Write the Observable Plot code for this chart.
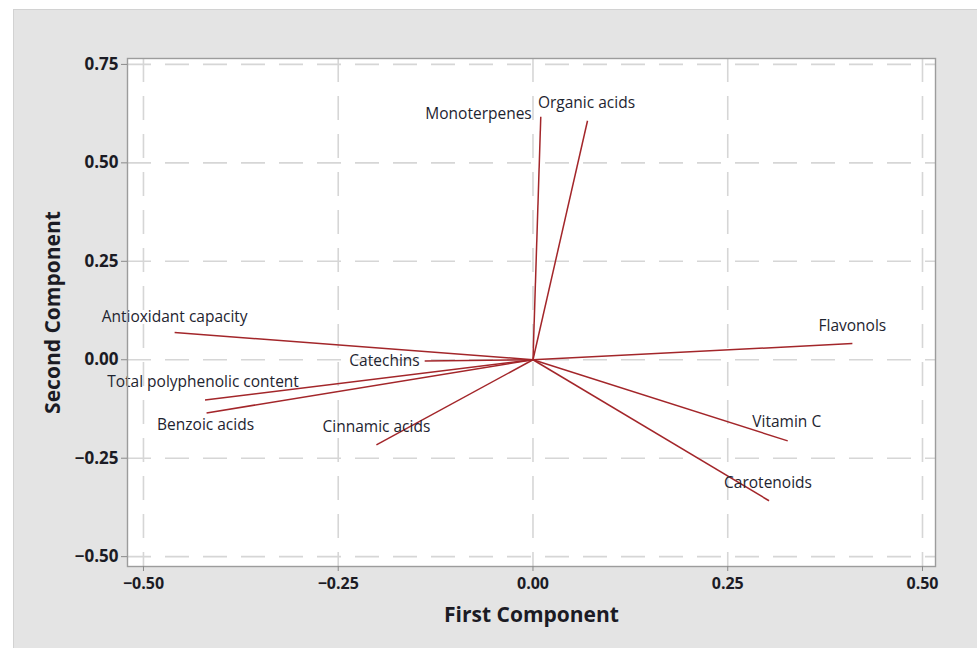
<!DOCTYPE html>
<html>
<head>
<meta charset="utf-8">
<script src="https://cdn.jsdelivr.net/npm/d3@7"></script>
<script src="https://cdn.jsdelivr.net/npm/@observablehq/plot@0.6"></script>
<style>
  html, body { margin: 0; padding: 0; background: #ffffff; }
  #wrap { position: relative; width: 977px; height: 648px; overflow: hidden; }
  #panel { position: absolute; left: 13px; top: 9px; right: 0; bottom: 0;
           background: #e4e4e4; border-top: 1px solid #d2d2d2; border-left: 1px solid #d2d2d2; }
  #chart { position: absolute; left: 0; top: 0; }
  #chart svg { background: transparent; }
</style>
</head>
<body>
<div id="wrap"><div id="panel"></div><div id="chart"></div></div>
<script>
// Variables (loadings on first and second principal components)
const variables = [
  "Monoterpenes", "Organic acids", "Antioxidant capacity", "Catechins",
  "Total polyphenolic content", "Benzoic acids", "Cinnamic acids",
  "Flavonols", "Vitamin C", "Carotenoids"
];
const firstComponent  = [0.010, 0.070, -0.460, -0.139, -0.421, -0.419, -0.201, 0.410, 0.327, 0.303];
const secondComponent = [0.617, 0.607,  0.069, -0.003, -0.102, -0.135, -0.216, 0.041, -0.206, -0.358];

const xTicks = [-0.50, -0.25, 0.00, 0.25, 0.50];
const yTicks = [-0.50, -0.25, 0.00, 0.25, 0.50, 0.75];

// label placement (pixel offsets from the vector tip)
const labelPlacement = {
  "Monoterpenes": {anchor: "end", dx: -9, dy: -3},
  "Organic acids": {anchor: "middle", dx: -1, dy: -18},
  "Antioxidant capacity": {anchor: "middle", dx: 0, dy: -16},
  "Catechins": {anchor: "end", dx: -5, dy: 0},
  "Total polyphenolic content": {anchor: "middle", dx: -2, dy: -18},
  "Benzoic acids": {anchor: "middle", dx: -1, dy: 12},
  "Cinnamic acids": {anchor: "middle", dx: 0, dy: -18},
  "Flavonols": {anchor: "middle", dx: 0, dy: -18},
  "Vitamin C": {anchor: "middle", dx: -1, dy: -19},
  "Carotenoids": {anchor: "middle", dx: -1, dy: -18}
};

const rows = variables.map((name, i) => ({name, x: firstComponent[i], y: secondComponent[i]}));

const lineColor = "#a3262a";
const fmt = d3.format(".2f");

const marks = [
  Plot.frame({fill: "white", stroke: "none"}),
  Plot.gridX(xTicks, {stroke: "#d6d6d6", strokeOpacity: 1, strokeWidth: 1.6, strokeDasharray: "24,14"}),
  Plot.gridY(yTicks, {stroke: "#d6d6d6", strokeOpacity: 1, strokeWidth: 1.6, strokeDasharray: "24,14"}),
  Plot.link(rows, {x1: () => 0, y1: () => 0, x2: "x", y2: "y", stroke: lineColor, strokeWidth: 1.5}),
  ...rows.map(r => {
    const p = labelPlacement[r.name];
    return Plot.text([r], {x: "x", y: "y", text: "name", textAnchor: p.anchor, dx: p.dx, dy: p.dy,
      fill: "#1e2430", fontSize: 15.5});
  }),
  Plot.frame({stroke: "#9c9c9c", strokeWidth: 1.4}),
  Plot.axisX(xTicks, {tickFormat: fmt, tickSize: 5, tickPadding: 6, stroke: "#8a8a8a",
    fontSize: 16, fontWeight: "bold", fill: "#1b1b24",
    label: "First Component", labelAnchor: "center", labelArrow: "none", labelOffset: 55}),
  Plot.axisY(yTicks, {tickFormat: fmt, tickSize: 6, tickPadding: 3, stroke: "#8a8a8a",
    fontSize: 17, fontWeight: "bold", fill: "#1b1b24",
    label: "Second Component", labelAnchor: "center", labelArrow: "none", labelOffset: 82})
];

const chart = Plot.plot({
  width: 977,
  height: 648,
  marginLeft: 127,
  marginRight: 42,
  marginTop: 58,
  marginBottom: 82,
  style: {fontFamily: "'Open Sans', 'Noto Sans', sans-serif", background: "transparent", overflow: "visible"},
  x: {domain: [-0.5205, 0.5167]},
  y: {domain: [-0.525, 0.765]},
  marks
});
document.getElementById("chart").appendChild(chart);

// axis title styling
chart.querySelectorAll("g[aria-label='x-axis label'] text, g[aria-label='y-axis label'] text").forEach(t => {
  t.setAttribute("font-size", "21");
  t.setAttribute("font-weight", "bold");
  t.setAttribute("fill", "#1b1b24");
  t.style.fontSize = "21px";
});
</script>
</body>
</html>
